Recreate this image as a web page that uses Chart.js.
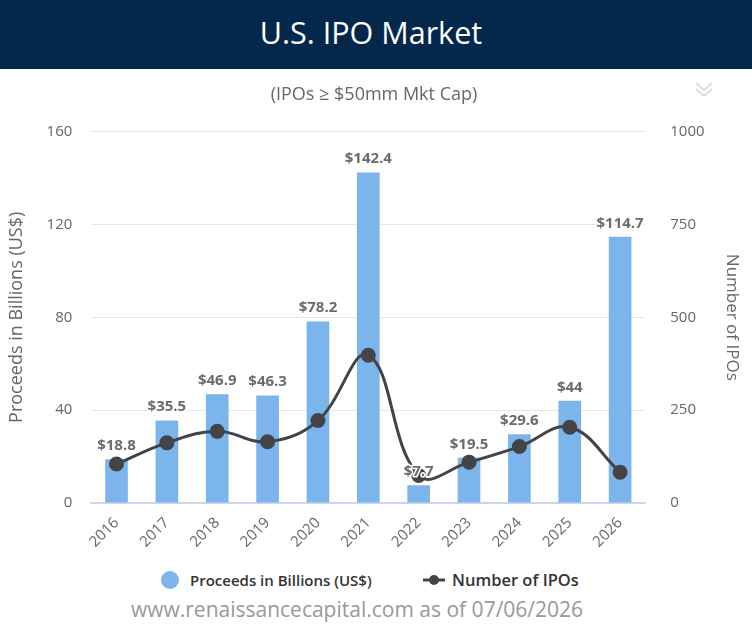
<!DOCTYPE html>
<html>
<head>
<meta charset="utf-8">
<script src="https://cdn.jsdelivr.net/npm/chart.js@4.4.1/dist/chart.umd.min.js"></script>
<style>
  html, body { margin: 0; padding: 0; background: #fff; }
  body { width: 752px; height: 628px; position: relative; overflow: hidden; font-family: "Open Sans", sans-serif; }
  .header { height: 69px; background: #03284b; color: #fff; text-align: center; font-size: 30.5px; line-height: 64px; padding-right: 10px; }
  .chev { position: absolute; left: 694px; top: 80px; }
  .wrap { position: absolute; left: 0; top: 69px; width: 752px; height: 495px; }
  .lg { position: absolute; top: 570px; font-size: 15px; font-weight: 600; color: #333; line-height: 20px; white-space: nowrap; }
  .dot { position: absolute; left: 161px; top: 571px; width: 18px; height: 18px; border-radius: 50%; background: #7cb5ec; }
  .lineKey { position: absolute; left: 423px; top: 573px; }
  .footer { position: absolute; top: 595px; left: 0; width: 714px; text-align: center; font-size: 21px; color: #999; }
</style>
</head>
<body>
<div class="header">U.S. IPO Market</div>
<svg class="chev" width="20" height="20" viewBox="0 0 20 20">
  <polyline points="2,3 10,10 18,3" fill="none" stroke="#ddd" stroke-width="2"/>
  <polyline points="2,9 10,16 18,9" fill="none" stroke="#ddd" stroke-width="2"/>
</svg>
<div class="wrap"><canvas id="ipoChart"></canvas></div>
<i class="dot"></i>
<div class="lg" style="left:190px">Proceeds in Billions (US$)</div>
<svg class="lineKey" width="22" height="14"><line x1="0" y1="7" x2="22" y2="7" stroke="#434348" stroke-width="3"/><circle cx="11" cy="7" r="5" fill="#434348"/></svg>
<div class="lg" style="left:452px; font-size:16.5px">Number of IPOs</div>
<div class="footer">www.renaissancecapital.com as of 07/06/2026</div>
<script>
const years = ["2016", "2017", "2018", "2019", "2020", "2021", "2022", "2023", "2024", "2025", "2026"]
const proceeds = [18.8, 35.5, 46.9, 46.3, 78.2, 142.4, 7.7, 19.5, 29.6, 44, 114.7]
const ipoCounts = [105, 162, 193, 165, 222, 398, 74, 110, 152, 204, 83]
const proceedsTicks = [0, 40, 80, 120, 160]
const countTicks = [0, 250, 500, 750, 1000]

const labelFont = "bold 15px 'Open Sans', sans-serif"
const fam = "'Open Sans', sans-serif"

// draws the "$xx.x" labels above each bar
const barLabels = {
  id: "barLabels",
  afterDatasetsDraw(chart) {
    const ctx = chart.ctx
    const meta = chart.getDatasetMeta(1)
    ctx.save()
    ctx.font = labelFont
    ctx.textAlign = "center"
    ctx.textBaseline = "bottom"
    ctx.lineJoin = "round"
    meta.data.forEach((bar, i) => {
      const txt = "$" + proceeds[i]
      ctx.strokeStyle = "#fff"
      ctx.lineWidth = 3
      ctx.strokeText(txt, bar.x, bar.y - 6)
      ctx.fillStyle = "#6b6b6b"
      ctx.fillText(txt, bar.x, bar.y - 6)
    })
    ctx.restore()
  },
}

document.addEventListener("DOMContentLoaded", () => {
  const ctx = document.getElementById("ipoChart").getContext("2d")
  new Chart(ctx, {
    data: {
      labels: years,
      datasets: [
        {
          type: "line",
          label: "Number of IPOs",
          data: ipoCounts,
          yAxisID: "y1",
          borderColor: "#434348",
          backgroundColor: "#434348",
          borderWidth: 3,
          pointRadius: 6,
          pointHoverRadius: 6,
          tension: 0.4,
          order: 0,
        },
        {
          type: "bar",
          label: "Proceeds in Billions (US$)",
          data: proceeds,
          yAxisID: "y",
          backgroundColor: "#7cb5ec",
          categoryPercentage: 0.9,
          barPercentage: 0.5,
          order: 1,
        },
      ],
    },
    options: {
      responsive: true,
      maintainAspectRatio: false,
      animation: false,
      layout: { padding: { left: 6, right: 10, top: 0, bottom: 10 } },
      plugins: {
        legend: { display: false },
        tooltip: { enabled: false },
        title: {
          display: true,
          text: "(IPOs \u2265 $50mm Mkt Cap)",
          color: "#666",
          font: { family: fam, size: 18, weight: "normal" },
          padding: { top: 15, bottom: 26 },
        },
      },
      scales: {
        x: {
          grid: { display: false },
          border: { color: "#ccd6eb", width: 2 },
          ticks: {
            color: "#666",
            font: { family: fam, size: 15 },
            maxRotation: 45,
            minRotation: 45,
          },
        },
        y: {
          position: "left",
          min: 0,
          max: 160,
          afterBuildTicks: (axis) => { axis.ticks = proceedsTicks.map((v) => ({ value: v })) },
          grid: { color: "#e6e6e6", drawTicks: false },
          border: { display: false },
          ticks: { color: "#666", padding: 19, font: { family: fam, size: 15 } },
          title: {
            display: true,
            text: "Proceeds in Billions (US$)",
            color: "#666",
            font: { family: fam, size: 18 },
            padding: { top: 0, bottom: 0 },
          },
        },
        y1: {
          position: "right",
          min: 0,
          max: 1000,
          afterBuildTicks: (axis) => { axis.ticks = countTicks.map((v) => ({ value: v })) },
          grid: { display: false },
          border: { display: false },
          ticks: {
            color: "#666",
            padding: 17,
            font: { family: fam, size: 15 },
            callback: (v) => String(v),
          },
          title: {
            display: true,
            text: "Number of IPOs",
            color: "#666",
            font: { family: fam, size: 17 },
            padding: { top: 0, bottom: 0 },
          },
        },
      },
    },
    plugins: [barLabels],
  })
})
</script>
</body>
</html>
